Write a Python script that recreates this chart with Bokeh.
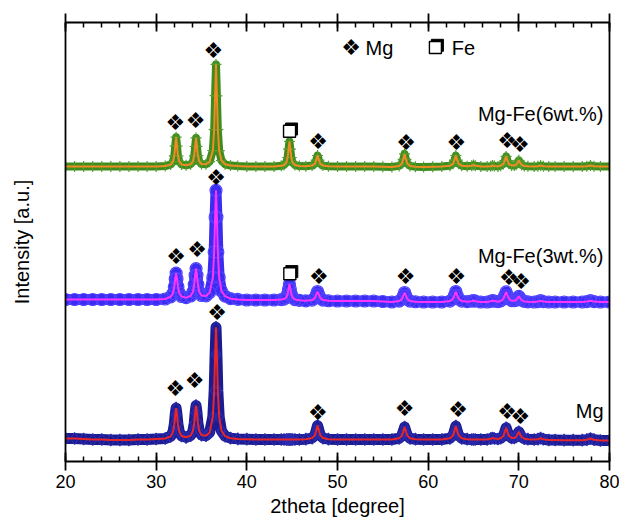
import numpy as np
from bokeh.plotting import figure
from bokeh.models import (Range1d, LinearAxis, SingleIntervalTicker, FixedTicker,
                          ColumnDataSource, Label)
from bokeh.core.properties import value
from bokeh.transform import dodge
from bokeh.embed import file_html
from bokeh.resources import INLINE

# ---------------- data ----------------
two_theta = [
    20, 21, 22, 23, 24, 25, 26, 27, 28, 29, 30, 31,
    31.6, 31.85, 32.0, 32.1, 32.2, 32.3, 32.4, 32.55, 32.8, 33.3,
    33.8, 34.05, 34.2, 34.3, 34.4, 34.5, 34.6, 34.75, 35.0, 35.5,
    35.9, 36.25, 36.4, 36.5, 36.6, 36.7, 36.8, 36.95, 37.2, 37.6,
    38.2, 39, 40, 41, 42, 43, 43.8, 44.1, 44.35, 44.5,
    44.6, 44.7, 44.8, 44.9, 45.05, 45.3, 45.8, 46.5, 47.2, 47.5,
    47.65, 47.8, 47.95, 48.1, 48.4, 49, 50, 51, 52, 53,
    54, 55, 56, 56.8, 57.1, 57.25, 57.4, 57.55, 57.7, 58.0,
    58.6, 59.5, 60.5, 61.5, 62.4, 62.75, 62.9, 63.05, 63.2, 63.35,
    63.7, 64.3, 64.8, 65.0, 65.2, 65.8, 66.5, 66.9, 67.1, 67.3,
    67.7, 68.0, 68.3, 68.45, 68.6, 68.75, 68.9, 69.2, 69.5, 69.7,
    69.85, 70.0, 70.15, 70.3, 70.6, 71.0, 71.7, 72.1, 72.4, 72.7,
    73.3, 74, 75, 76, 77, 77.5, 77.9, 78.3, 79, 80,
]

int_mg = [
    10, 10, 9.5, 9, 9, 8.5, 8.5, 8.5, 9, 9, 9.5, 10,
    12.1, 16.4, 24.1, 33.7, 40.4, 33.8, 24.2, 16.7, 12.5, 11.2,
    12.9, 17.3, 25.4, 35.6, 42.9, 35.7, 25.6, 17.5, 13.4, 12.8,
    16.1, 31.7, 57.9, 93.7, 121.2, 93.6, 57.8, 31.6, 17.7, 12.4,
    10.3, 9.6, 9.3, 9, 9, 9, 9, 9, 9, 9,
    9, 9, 9, 9, 9, 9, 9, 9.3, 10.4, 13.3,
    18, 23, 18, 13.3, 10.4, 9.3, 9, 9, 9, 9,
    9, 9, 9, 10.2, 12.9, 17, 21.5, 17, 12.9, 10.2,
    9.3, 9, 9, 9, 10.2, 13.2, 17.6, 22.5, 17.6, 13.2,
    10.2, 9.3, 9, 9, 9, 9, 9, 9.8, 10.5, 10,
    9.5, 10.3, 12.6, 16.5, 20.7, 16.6, 12.8, 10.6, 10.6, 11.7,
    14.1, 16.7, 14, 11.5, 9.85, 9.3, 9, 9.3, 10.3, 9.3,
    8.5, 8.5, 8.3, 8.3, 8.3, 8.8, 10, 8.8, 8, 8,
]

int_fe3 = [
    10, 10, 10, 10, 10, 10, 10, 10, 10, 10, 10, 10.5,
    12.7, 16.2, 22.7, 30.8, 36.4, 30.8, 22.8, 16.5, 13, 11.9,
    13.5, 17.6, 25, 34.3, 40.9, 34.4, 25.2, 17.8, 14, 13.6,
    16.9, 32.1, 57.6, 92.5, 119.2, 92.4, 57.5, 32, 18.5, 13.3,
    10.8, 10.1, 9.5, 9.5, 9.5, 9.5, 9.9, 10.4, 12, 15.3,
    20.6, 25.5, 20.6, 15.3, 12, 9.9, 9.2, 8.7, 9.4, 11.4,
    14.6, 18, 14.6, 11.4, 9.45, 8.75, 8.5, 8.5, 8.5, 8.5,
    8.5, 8, 7.5, 8.45, 10.4, 13.6, 17, 13.6, 10.4, 8.45,
    7.75, 7.5, 7.5, 7.5, 8.4, 10.7, 14.2, 18, 14.2, 10.7,
    8.4, 7.8, 8.3, 9, 8.3, 7.5, 7.5, 8.2, 9, 8.4,
    7.8, 8.55, 10.7, 14, 17.6, 14, 10.8, 8.8, 8.75, 9.5,
    11.25, 13.2, 11.15, 9.3, 8.1, 7.7, 7.5, 7.9, 8.8, 7.9,
    7.5, 7.5, 7.5, 7.5, 7.5, 7.9, 8.8, 7.9, 7.5, 7.5,
]

int_fe6 = [
    10, 10, 10, 10, 10, 10, 10, 10, 10, 10, 10, 10.4,
    12, 14.8, 20.7, 30.4, 39.3, 30.4, 20.7, 14.8, 12.1, 11.2,
    12.2, 14.9, 20.7, 30, 38.6, 30.1, 20.8, 15.1, 12.5, 12.3,
    14.8, 26, 46.9, 80.8, 112.1, 80.7, 46.8, 25.9, 16, 12.2,
    10.9, 10.4, 10, 10, 10, 10, 10.7, 11.5, 13.9, 19,
    27.3, 35, 27.3, 19, 13.9, 11.5, 10.45, 10.2, 10.9, 12.8,
    16.3, 21, 16.3, 12.8, 10.9, 10.2, 10, 10, 10, 10,
    10, 9.8, 9.6, 10.6, 12.9, 17.1, 22.6, 17.1, 12.9, 10.6,
    9.8, 9.6, 9.8, 10, 10.75, 12.8, 16.3, 21, 16.3, 12.8,
    10.75, 10.2, 10.8, 11.5, 10.8, 10.1, 10, 10.3, 11, 10.5,
    10.1, 10.85, 12.6, 15.9, 20.1, 15.9, 12.7, 11.05, 11, 11.75,
    13.7, 16.15, 13.6, 11.6, 10.5, 10.2, 10, 10.3, 11, 10.3,
    10, 10, 10, 10, 10, 10.2, 11, 10.2, 10, 10,
]

# vertical stacking offsets of the three patterns
offset_mg, offset_fe3, offset_fe6 = 13, 152, 285

# phase markers (peak labels)
mg_sym_x_mg = [32.13, 34.23, 36.73, 47.83, 57.39, 63.31, 68.71, 70.18]
mg_sym_y_mg = [72.7, 81, 148.7, 49.3, 52.7, 52, 50.3, 45]
mg_sym_x_fe3 = [32.21, 34.52, 36.62, 47.94, 57.5, 63.12, 68.89, 70.26]
mg_sym_y_fe3 = [205, 212, 284.5, 185, 185, 185, 184.3, 180.3]
mg_sym_x_fe6 = [32.13, 34.34, 36.32, 47.87, 57.58, 63.12, 68.71, 70.11]
mg_sym_y_fe6 = [339.3, 341, 411, 320.3, 319.3, 319.3, 321, 317]
fe_sym_x = [44.74, 44.71]
fe_sym_y = [187.7, 330.3]

# legend entries
legend_sym_x = [51.5, 60.8]
legend_text_x = [53.1, 62.6]
legend_y = 414
legend_text = ["Mg", "Fe"]

# ---------------- figure ----------------
FONT = "Liberation Sans"
p = figure(width=619, height=526, x_range=Range1d(20, 80), y_range=Range1d(0, 439),
           output_backend="svg", toolbar_location=None,
           min_border_left=65, min_border_right=10, min_border_top=22,
           min_border_bottom=65)
p.outline_line_color = None
p.xgrid.visible = False
p.ygrid.visible = False
p.background_fill_color = "white"
p.border_fill_color = "white"

AX_W = 1.8


def style_x(ax, labels=True):
    ax.ticker = SingleIntervalTicker(interval=10, num_minor_ticks=5)
    ax.axis_line_width = AX_W
    ax.major_tick_line_width = AX_W
    ax.minor_tick_line_width = 1.5
    ax.major_tick_in = 9
    ax.major_tick_out = 9
    ax.minor_tick_in = 5
    ax.minor_tick_out = 0
    ax.axis_line_color = "black"
    ax.major_tick_line_color = "black"
    ax.minor_tick_line_color = "black"
    if labels:
        ax.major_label_text_font = FONT
        ax.major_label_text_font_size = "18px"
        ax.major_label_text_color = "black"
        ax.major_label_standoff = 4
    else:
        ax.major_label_text_color = None
        ax.major_label_standoff = 0


bx = p.xaxis[0]
style_x(bx)
bx.axis_label = "2theta [degree]"
bx.axis_label_text_font = FONT
bx.axis_label_text_font_size = "20px"
bx.axis_label_text_font_style = "normal"
bx.axis_label_text_color = "black"
bx.axis_label_standoff = 4

top = LinearAxis()
style_x(top, labels=False)
p.add_layout(top, "above")


def style_y(ax):
    ax.ticker = FixedTicker(ticks=[])
    ax.axis_line_width = AX_W
    ax.axis_line_color = "black"
    ax.major_tick_in = 0
    ax.major_tick_out = 0
    ax.minor_tick_in = 0
    ax.minor_tick_out = 0
    ax.major_label_text_color = None
    ax.major_label_standoff = 0


ly = p.yaxis[0]
style_y(ly)
ly.axis_label = "Intensity [a.u.]"
ly.axis_label_text_font = FONT
ly.axis_label_text_font_size = "20px"
ly.axis_label_text_font_style = "normal"
ly.axis_label_text_color = "black"
ly.axis_label_standoff = 33

ry = LinearAxis()
style_y(ry)
p.add_layout(ry, "right")


def pattern(vals, off, band_color, band_w, marker, msize, mcolor, fit_color):
    y = np.array(vals, dtype=float) + off
    src = ColumnDataSource(dict(x=two_theta, y=y))
    p.line("x", "y", source=src, line_width=band_w, line_color=band_color,
           line_join="round", line_cap="round")
    p.scatter("x", "y", source=src, marker=marker, size=msize, line_color=mcolor,
              fill_color=None, line_width=1.2)
    p.line("x", "y", source=src, line_width=2, line_color=fit_color)


pattern(int_fe6, offset_fe6, "#3f8c1e", 8, "cross", 11, "#4f9e2c", "#f08a24")
pattern(int_fe3, offset_fe3, "#3a2cf0", 11, "circle", 12, "#5142ff", "#ff33ff")
pattern(int_mg, offset_mg, "#1c1c90", 11, "diamond", 12, "#2b2bb0", "#e8262a")

SYM_FONT = value("DejaVu Sans")
SYM_SIZE = "22px"
for xs, ys in [(mg_sym_x_mg, mg_sym_y_mg), (mg_sym_x_fe3, mg_sym_y_fe3),
               (mg_sym_x_fe6, mg_sym_y_fe6)]:
    p.text(x=xs, y=ys, text=["\u2756"] * len(xs), text_font=SYM_FONT,
           text_font_size=SYM_SIZE, text_align="center", text_baseline="middle",
           text_color="black")
p.text(x=[legend_sym_x[0]], y=[legend_y], text=["\u2756"], text_font=SYM_FONT,
       text_font_size=SYM_SIZE, text_align="center", text_baseline="middle",
       text_color="black")

# Fe symbol: white square with an upper-right drop shadow
fe_src = ColumnDataSource(dict(x=fe_sym_x + [legend_sym_x[1]],
                               y=fe_sym_y + [legend_y]))
p.scatter(dodge("x", 0.22), dodge("y", 2.2), source=fe_src, marker="square", size=12,
          fill_color="black", line_color="black", line_width=1)
p.scatter("x", "y", source=fe_src, marker="square", size=12, fill_color="white",
          line_color="black", line_width=1.4)

for xx, tt in zip(legend_text_x, legend_text):
    p.add_layout(Label(x=xx, y=legend_y, text=tt, text_align="left",
                       text_baseline="middle", text_font=FONT,
                       text_font_size="20px", text_color="black"))

for yy, tt in [(348, "Mg-Fe(6wt.%)"), (206, "Mg-Fe(3wt.%)"), (51, "Mg")]:
    p.add_layout(Label(x=79.34, y=yy, text=tt, text_align="right",
                       text_baseline="middle", text_font=FONT,
                       text_font_size="20px", text_color="black"))

open("out.html", "w").write(file_html(p, INLINE))
